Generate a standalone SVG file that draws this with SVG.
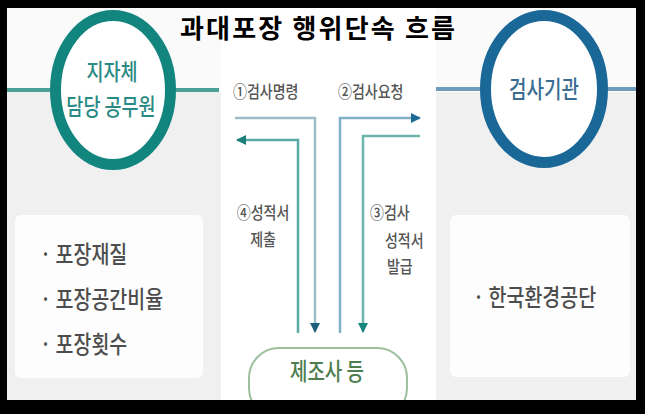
<svg xmlns="http://www.w3.org/2000/svg" width="645" height="414" viewBox="0 0 645 414">
<style>
.k{font-family:"Noto Sans CJK KR","Noto Sans",sans-serif;font-weight:500}
.lbl{font-size:14px;fill:#555}
.lst{font-size:19.5px;fill:#4d4d4d}
.ln{fill:none;stroke-width:2.5}
</style>
<defs>
<marker id="mA" markerWidth="10" markerHeight="10" refX="9" refY="5" orient="auto" markerUnits="userSpaceOnUse"><path d="M0,0 L10,5 L0,10 Z" fill="#1d5f7a"/></marker>
<marker id="mB" markerWidth="10" markerHeight="10" refX="9" refY="5" orient="auto" markerUnits="userSpaceOnUse"><path d="M0,0 L10,5 L0,10 Z" fill="#1a7f78"/></marker>
<marker id="mC" markerWidth="10" markerHeight="10" refX="9" refY="5" orient="auto" markerUnits="userSpaceOnUse"><path d="M0,0 L10,5 L0,10 Z" fill="#1c6a94"/></marker>
<marker id="mD" markerWidth="10" markerHeight="10" refX="9" refY="5" orient="auto" markerUnits="userSpaceOnUse"><path d="M0,0 L10,5 L0,10 Z" fill="#17857a"/></marker>
</defs>
<rect x="0" y="0" width="645" height="414" fill="#000"/>
<rect x="7" y="8" width="629" height="392" fill="#f0f0f0"/>
<rect x="7" y="8" width="629" height="84" fill="#fafafa"/>
<rect x="221" y="8" width="215" height="392" fill="#ffffff"/>
<line x1="7" y1="90" x2="219" y2="90" stroke="#49a19a" stroke-width="4"/>
<line x1="436" y1="89" x2="636" y2="89" stroke="#6d9cbb" stroke-width="4"/>
<g id="title"><text x="180" y="38" font-family="Noto Sans CJK KR, sans-serif" font-size="26" font-weight="bold" fill="#000" textLength="275" lengthAdjust="spacing">과대포장 행위단속 흐름</text></g>
<g id="official">
<ellipse cx="113" cy="90" rx="57.5" ry="74.5" fill="#fff" stroke="#13857f" stroke-width="11"/>
<text class="k" transform="translate(112,80) scale(1,1.25)" text-anchor="middle" font-size="18.5" fill="#2a8a84">지자체</text>
<text class="k" transform="translate(111,115) scale(1,1.25)" text-anchor="middle" font-size="18.5" fill="#2a8a84">담당 공무원</text>
</g>
<g id="agency">
<ellipse cx="544" cy="89" rx="58.5" ry="73.5" fill="#fff" stroke="#1a6898" stroke-width="11"/>
<text class="k" transform="translate(544,98) scale(1,1.25)" text-anchor="middle" font-size="19" fill="#396c91">검사기관</text>
</g>
<g id="items-left">
<rect x="15" y="215" width="188" height="163" rx="6" fill="#fdfdfd"/>
<text class="k lst" transform="translate(40,263) scale(1,1.2)">· 포장재질</text>
<text class="k lst" transform="translate(40,308) scale(1,1.2)">· 포장공간비율</text>
<text class="k lst" transform="translate(40,353) scale(1,1.2)">· 포장횟수</text>
</g>
<g id="items-right">
<rect x="450" y="215" width="180" height="162" rx="6" fill="#fdfdfd"/>
<text class="k lst" transform="translate(473,306) scale(1,1.2)">· 한국환경공단</text>
</g>
<g id="maker">
<rect x="249" y="348" width="158" height="70" rx="30" fill="#fff" stroke="#9cbf9c" stroke-width="2"/>
<text class="k" transform="translate(327,380) scale(1,1.25)" text-anchor="middle" font-size="19" fill="#4e7d4e">제조사 등</text>
</g>
<rect x="0" y="400" width="645" height="14" fill="#000"/>
<g id="connectors">
<path class="ln" d="M235,118 H315 V332" stroke="#9bbcc8" marker-end="url(#mA)"/>
<path class="ln" d="M298,333 V140 H237" stroke="#5aa9a5" marker-end="url(#mB)"/>
<path class="ln" d="M340,333 V118 H420" stroke="#7fb0c8" marker-end="url(#mC)"/>
<path class="ln" d="M420,136 H363 V332" stroke="#6bb5ad" marker-end="url(#mD)"/>
<text class="k lbl" transform="translate(233,98) scale(1,1.2)">①검사명령</text>
<text class="k lbl" transform="translate(338,98) scale(1,1.2)">②검사요청</text>
<text class="k lbl" transform="translate(263,219) scale(1,1.2)" text-anchor="middle">④성적서</text>
<text class="k lbl" transform="translate(263,246) scale(1,1.2)" text-anchor="middle">제출</text>
<text class="k lbl" transform="translate(370,219) scale(1,1.2)">③검사</text>
<text class="k lbl" transform="translate(385,247) scale(1,1.2)">성적서</text>
<text class="k lbl" transform="translate(387,273) scale(1,1.2)">발급</text>
</g>
</svg>
